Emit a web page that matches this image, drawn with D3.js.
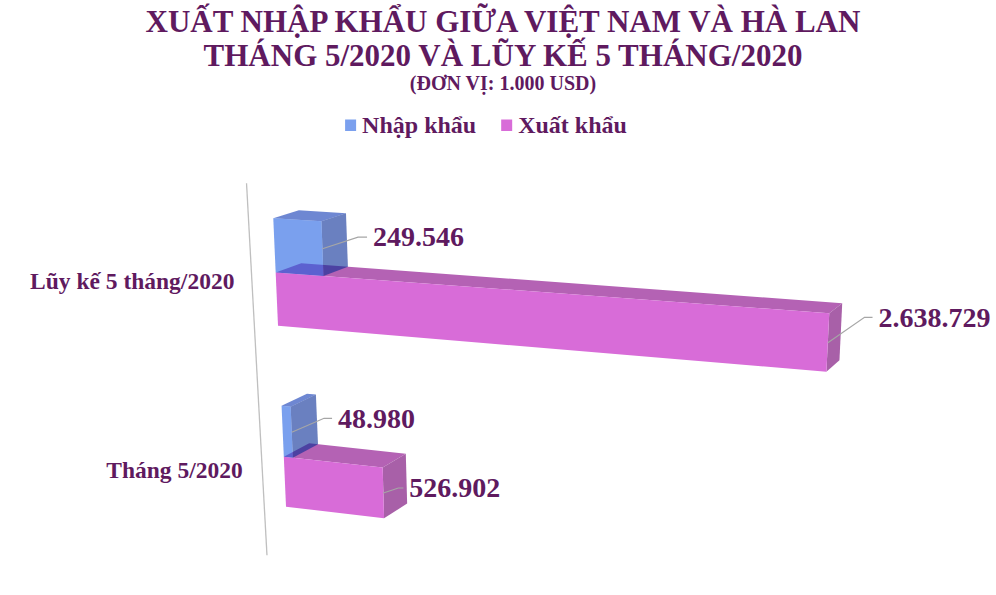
<!DOCTYPE html>
<html>
<head>
<meta charset="utf-8">
<script src="https://cdn.jsdelivr.net/npm/d3@7"></script>
<style>
body { margin: 0; background: #fff; }
svg text { font-family: "Liberation Serif", "Times New Roman", serif; font-weight: bold; fill: #5f1a5f; }
</style>
</head>
<body>
<div id="chart"></div>
<script>
var categories = ["Lũy kế 5 tháng/2020", "Tháng 5/2020"];
var series = ["Nhập khẩu", "Xuất khẩu"];
var importValues = [249546, 48980];
var exportValues = [2638729, 526902];
var titleLines = ["XUẤT NHẬP KHẨU GIỮA VIỆT NAM VÀ HÀ LAN", "THÁNG 5/2020 VÀ LŨY KẾ 5 THÁNG/2020", "(ĐƠN VỊ: 1.000 USD)"];

var w = 996, h = 595;

// face colours; the blue bars are see-through like in the original
var faces = {
    "Nhập khẩu": {front: "rgb(33,97,227)", top: "rgb(13,55,180)", side: "rgb(7,43,150)", opacity: 0.6, swatch: "#7ba0ee"},
    "Xuất khẩu": {front: "#d86cd8", top: "#b462b4", side: "#a860a8", opacity: 1, swatch: "#d86cd8"}
};

// front wall of the 3d plot, corners for (u,v) = (0,0) (1,0) (1,1) (0,1)
var wall = [[271.4, 175.9], [921.1, 211.9], [895.3, 620.9], [287.7, 544.6]];
var vanish = [1400, -130];  // depth edges run towards this point
var camDist = 43;           // camera distance, in bar depths
var axisDepth = -1;         // axis line sits one depth in front of the bars

// where each data label was dragged to: [dx, dy, tail]
var labelNudge = [
    [[35.6, -11.7, 9], [36.7, -25.4, 8]],
    [[32.3, -14, 8], [15, -5, 5]]
];

var fmt = d3.formatLocale({decimal: ",", thousands: ".", grouping: [3], currency: ["", ""]}).format(",d");

function squareToQuad(q) {
    var x0 = q[0][0], y0 = q[0][1], x1 = q[1][0], y1 = q[1][1];
    var x2 = q[2][0], y2 = q[2][1], x3 = q[3][0], y3 = q[3][1];
    var dx1 = x1 - x2, dx2 = x3 - x2, dx3 = x0 - x1 + x2 - x3;
    var dy1 = y1 - y2, dy2 = y3 - y2, dy3 = y0 - y1 + y2 - y3;
    var den = dx1 * dy2 - dx2 * dy1;
    var g = (dx3 * dy2 - dx2 * dy3) / den;
    var hh = (dx1 * dy3 - dx3 * dy1) / den;
    var a = x1 - x0 + g * x1, b = x3 - x0 + hh * x3;
    var d = y1 - y0 + g * y1, e = y3 - y0 + hh * y3;
    return function(u, v) {
        var k = g * u + hh * v + 1;
        return [(a * u + b * v + x0) / k, (d * u + e * v + y0) / k];
    };
}

var plane = squareToQuad(wall);

function project(u, v, z) {
    var p = plane(u, v);
    var t = z / (camDist + z);
    return [p[0] + t * (vanish[0] - p[0]), p[1] + t * (vanish[1] - p[1])];
}

var x = d3.scaleLinear().domain([0, 3000000]).range([0, 1]);
var y0 = d3.scaleBand().domain(categories).range([0, 1]).paddingInner(0.435).paddingOuter(0.2175);
var y1 = d3.scaleBand().domain(series).range([0, y0.bandwidth()]);

var svg = d3.select("#chart").append("svg")
    .attr("width", w)
    .attr("height", h);

// title
svg.selectAll("text.title")
    .data(titleLines)
    .enter().append("text")
    .attr("class", "title")
    .attr("x", 503)
    .attr("y", function(d, i) { return [32, 66, 90][i]; })
    .attr("text-anchor", "middle")
    .style("font-size", function(d, i) { return i < 2 ? "31px" : "20px"; })
    .text(function(d) { return d; });

// legend
var legend = svg.append("g");
var lx = 0;
series.forEach(function(s) {
    var g = legend.append("g").attr("transform", "translate(" + lx + ",0)");
    g.append("rect")
        .attr("x", 0).attr("y", -13.2)
        .attr("width", 11).attr("height", 11.5)
        .attr("fill", faces[s].swatch);
    var t = g.append("text")
        .attr("x", 17)
        .attr("y", 0)
        .style("font-size", "24px")
        .text(s);
    lx += 17 + t.node().getComputedTextLength() + 25;
});
lx -= 25;
legend.attr("transform", "translate(" + (486 - lx / 2) + ",132.7)");

var plot = svg.append("g");

// category axis line
var a0 = project(0, 0, axisDepth), a1 = project(0, 0.985, axisDepth);
plot.append("line")
    .attr("x1", a0[0] + 2).attr("y1", a0[1])
    .attr("x2", a1[0] + 6).attr("y2", a1[1])
    .attr("stroke", "#bfbfbf")
    .attr("stroke-width", 1.3);

categories.forEach(function(c) {
    var p = project(0, y0(c) + y0.bandwidth() / 2, axisDepth);
    plot.append("text")
        .attr("x", p[0] - 14.5)
        .attr("y", p[1])
        .attr("dy", "0.3em")
        .attr("text-anchor", "end")
        .style("font-size", "23.5px")
        .text(c);
});

function poly(pts) {
    return "M" + pts.map(function(p) { return p[0].toFixed(2) + "," + p[1].toFixed(2); }).join("L") + "Z";
}

function drawBar(g, s, val, vTop, vBot) {
    var u = x(val);
    var f = faces[s];
    var top = [project(0, vTop, 0), project(u, vTop, 0), project(u, vTop, 1), project(0, vTop, 1)];
    var side = [project(u, vTop, 0), project(u, vBot, 0), project(u, vBot, 1), project(u, vTop, 1)];
    var front = [project(0, vTop, 0), project(u, vTop, 0), project(u, vBot, 0), project(0, vBot, 0)];
    g.append("path").attr("d", poly(top)).attr("fill", f.top).attr("fill-opacity", f.opacity);
    g.append("path").attr("d", poly(side)).attr("fill", f.side).attr("fill-opacity", f.opacity);
    g.append("path").attr("d", poly(front)).attr("fill", f.front).attr("fill-opacity", f.opacity);
}

var valuesBySeries = [importValues, exportValues];

categories.forEach(function(c, ci) {
    var g = plot.append("g");
    // export bar first so the see-through import bar sits over its top
    [1, 0].forEach(function(si) {
        var s = series[si];
        var vTop = y0(c) + y1(s), vBot = vTop + y1.bandwidth();
        drawBar(g, s, valuesBySeries[si][ci], vTop, vBot);
    });
});

// data labels with leader lines
categories.forEach(function(c, ci) {
    series.forEach(function(s, si) {
        var val = valuesBySeries[si][ci];
        var vMid = y0(c) + y1(s) + y1.bandwidth() / 2;
        var p = project(x(val), vMid, 0);
        var n = labelNudge[ci][si];
        var k = [p[0] + n[0], p[1] + n[1]];
        var e = [k[0] + n[2], k[1]];
        plot.append("path")
            .attr("d", "M" + p + "L" + k + "L" + e)
            .attr("fill", "none")
            .attr("stroke", "#a6a6a6")
            .attr("stroke-width", 1.2);
        plot.append("text")
            .attr("x", e[0] + 6)
            .attr("y", e[1])
            .attr("dy", "0.33em")
            .style("font-size", "28px")
            .text(fmt(val));
    });
});
</script>
</body>
</html>
